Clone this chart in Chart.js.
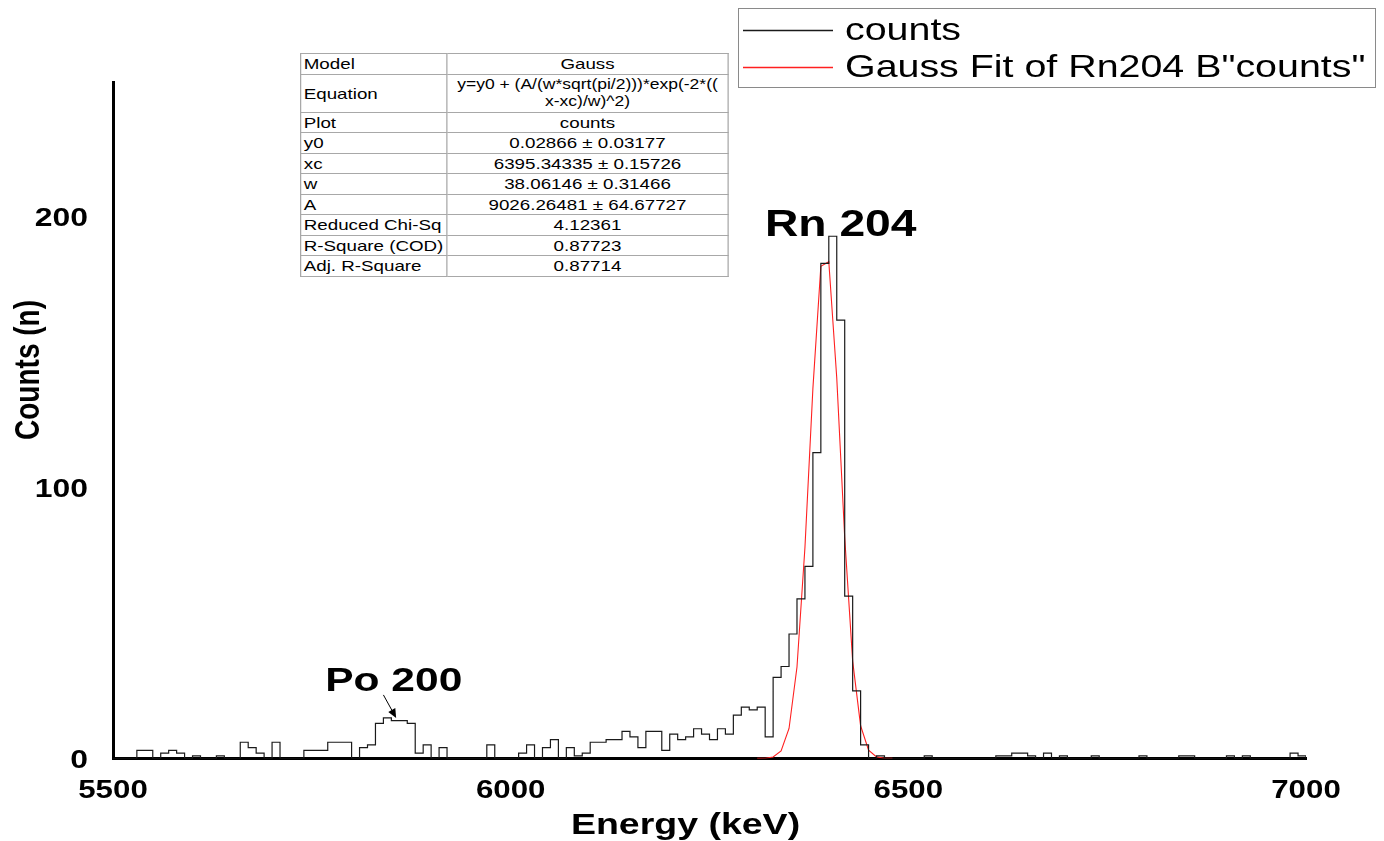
<!DOCTYPE html>
<html>
<head>
<meta charset="utf-8">
<script src="https://cdn.jsdelivr.net/npm/chart.js@4.4.0/dist/chart.umd.min.js"></script>
<style>
  body { margin: 0; background: #fff; }
  #wrap { position: relative; width: 1384px; height: 841px; }
  #fitTable {
    position: absolute; left: 300px; top: 53px;
    width: 342px; border-collapse: collapse; table-layout: fixed;
    transform: scaleX(1.25); transform-origin: 0 0;
    font-family: "Liberation Sans", Arial, sans-serif; font-size: 15px; color: #000;
    background: #fff;
  }
  #fitTable td { border: 1px solid #a8a8a8; padding: 0 2px; height: 19.5px; line-height: 17px; white-space: nowrap; overflow: hidden; }
  #fitTable td:last-child { text-align: center; }
  #fitTable td.eq { font-size: 14px; line-height: 17px; height: 37px; }
</style>
</head>
<body>
<div id="wrap">
  <canvas id="spectrum"></canvas>
  <table id="fitTable"><colgroup><col style="width:117px"><col style="width:225px"></colgroup></table>
</div>
<script>
// histogram: 10 keV bins starting at 5500 keV
const binStart = 5500;
const binWidth = 10;
const counts = [
  0, 0, 0, 3, 3, 0, 2, 3, 2, 0,         // 5500
  1, 0, 0, 1, 0, 0, 6, 4, 2, 0,         // 5600
  6, 0, 0, 0, 3, 3, 3, 6, 6, 6,         // 5700
  0, 4, 5, 13, 15, 14, 14, 13, 2, 5,    // 5800
  0, 4, 0, 0, 0, 0, 0, 5, 0, 0,         // 5900
  0, 2, 5, 0, 4, 7, 0, 4, 1, 2,         // 6000
  6, 6, 7, 7, 10, 8, 4, 10, 10, 3,      // 6100
  9, 7, 8, 11, 9, 7, 11, 9, 16, 19,     // 6200
  18, 19, 8, 30, 34, 46, 59, 71, 113, 183, // 6300
  193, 162, 60, 25, 5, 0, 1, 0, 0, 0,   // 6400
  0, 0, 1, 0, 0, 0, 0, 0, 0, 0,         // 6500
  0, 1, 1, 2, 2, 1, 0, 2, 0, 1,         // 6600
  0, 0, 0, 1, 0, 0, 0, 0, 0, 1,         // 6700
  0, 0, 0, 0, 1, 1, 0, 0, 0, 0,         // 6800
  1, 0, 1, 0, 0, 0, 0, 0, 2, 1          // 6900
];

// Gauss fit curve as plotted
const fitEnergy = [6310, 6320, 6330, 6340, 6350, 6360, 6370, 6380, 6390, 6400, 6410, 6420, 6430, 6440, 6450, 6460, 6470, 6480];
const fitCounts = [0.04, 0.1, 0.55, 2.8, 11.1, 33.8, 78.0, 136.7, 181.9, 183.6, 140.6, 81.7, 36.0, 12.1, 3.1, 0.6, 0.1, 0.04];

const xTicks = [5500, 6000, 6500, 7000];
const yTicks = [0, 100, 200];

const fitRows = [
  ['Model', 'Gauss'],
  ['Equation', 'y=y0 + (A/(w*sqrt(pi/2)))*exp(-2*((<br>x-xc)/w)^2)'],
  ['Plot', 'counts'],
  ['y0', '0.02866 \u00b1 0.03177'],
  ['xc', '6395.34335 \u00b1 0.15726'],
  ['w', '38.06146 \u00b1 0.31466'],
  ['A', '9026.26481 \u00b1 64.67727'],
  ['Reduced Chi-Sq', '4.12361'],
  ['R-Square (COD)', '0.87723'],
  ['Adj. R-Square', '0.87714']
];

const FONT = '"Liberation Sans", Arial, sans-serif';
const SX = 1.25; // text is drawn horizontally widened

// fill in the fit parameter table
const table = document.getElementById('fitTable');
fitRows.forEach(row => {
  const tr = document.createElement('tr');
  tr.innerHTML = `<td>${row[0]}</td><td${row[0] === 'Equation' ? ' class="eq"' : ''}>${row[1]}</td>`;
  table.appendChild(tr);
});

function drawText(ctx, text, x, y, font, align) {
  ctx.save();
  ctx.translate(x, y);
  ctx.scale(SX, 1);
  ctx.font = font;
  ctx.textAlign = align;
  ctx.textBaseline = 'alphabetic';
  ctx.fillStyle = '#000';
  ctx.fillText(text, 0, 0);
  ctx.restore();
}

// tick labels, axis titles, peak labels and legend
const decorations = {
  id: 'decorations',
  afterDraw(chart) {
    const ctx = chart.ctx;
    const xs = chart.scales.x;
    const ys = chart.scales.y;

    xs.ticks.forEach(t => {
      drawText(ctx, String(t.value), xs.getPixelForValue(t.value), 798, 'bold 25px ' + FONT, 'center');
    });
    ys.ticks.forEach(t => {
      drawText(ctx, String(t.value), 88, ys.getPixelForValue(t.value) + 9, 'bold 25.5px ' + FONT, 'right');
    });

    drawText(ctx, 'Energy (keV)', (xs.left + xs.right) / 2 - 24, 834, 'bold 30px ' + FONT, 'center');

    // rotated y title, widened across the text direction
    ctx.save();
    ctx.translate(39, 370);
    ctx.scale(SX, 1);
    ctx.rotate(-Math.PI / 2);
    ctx.font = 'bold 28px ' + FONT;
    ctx.textAlign = 'center';
    ctx.textBaseline = 'alphabetic';
    ctx.fillStyle = '#000';
    ctx.fillText('Counts (n)', 0, 0);
    ctx.restore();

    // peak labels
    drawText(ctx, 'Rn 204', xs.getPixelForValue(6415), ys.getPixelForValue(193), 'bold 37px ' + FONT, 'center');
    drawText(ctx, 'Po 200', xs.getPixelForValue(5853), ys.getPixelForValue(25), 'bold 34px ' + FONT, 'center');

    // arrow down to the Po 200 bump
    const ax0 = xs.getPixelForValue(5840), ay0 = ys.getPixelForValue(23.5);
    const ax1 = xs.getPixelForValue(5856), ay1 = ys.getPixelForValue(15);
    const ang = Math.atan2(ay1 - ay0, ax1 - ax0);
    ctx.save();
    ctx.strokeStyle = '#000';
    ctx.fillStyle = '#000';
    ctx.lineWidth = 1;
    ctx.beginPath();
    ctx.moveTo(ax0, ay0);
    ctx.lineTo(ax1 - 6 * Math.cos(ang), ay1 - 6 * Math.sin(ang));
    ctx.stroke();
    ctx.beginPath();
    ctx.moveTo(ax1, ay1);
    ctx.lineTo(ax1 - 9 * Math.cos(ang) + 4 * Math.sin(ang), ay1 - 9 * Math.sin(ang) - 4 * Math.cos(ang));
    ctx.lineTo(ax1 - 9 * Math.cos(ang) - 4 * Math.sin(ang), ay1 - 9 * Math.sin(ang) + 4 * Math.cos(ang));
    ctx.closePath();
    ctx.fill();
    ctx.restore();

    // legend box
    ctx.save();
    ctx.fillStyle = '#fff';
    ctx.fillRect(738, 8, 638, 80);
    ctx.strokeStyle = '#8a8a8a';
    ctx.lineWidth = 1;
    ctx.strokeRect(738.5, 8.5, 637, 79);
    chart.data.datasets.forEach((ds, i) => {
      const ly = 30 + i * 37;
      ctx.strokeStyle = ds.borderColor;
      ctx.lineWidth = 1.5;
      ctx.beginPath();
      ctx.moveTo(743, ly + 0.5);
      ctx.lineTo(833, ly + 0.5);
      ctx.stroke();
      drawText(ctx, ds.label, 845, ly + 10, '31.5px ' + FONT, 'left');
    });
    ctx.restore();
  }
};

const histPoints = counts.map((c, i) => ({ x: binStart + i * binWidth, y: c }));
histPoints.push({ x: binStart + counts.length * binWidth, y: 0 });
const fitPoints = fitEnergy.map((e, i) => ({ x: e, y: fitCounts[i] }));

new Chart(document.getElementById('spectrum'), {
  type: 'line',
  data: {
    datasets: [
      {
        label: 'counts',
        data: histPoints,
        stepped: 'before',
        borderColor: '#1a1a1a',
        borderWidth: 1.2,
        pointRadius: 0,
        fill: false
      },
      {
        label: 'Gauss Fit of Rn204 B"counts"',
        data: fitPoints,
        borderColor: '#ff2020',
        borderWidth: 1.1,
        pointRadius: 0,
        tension: 0,
        fill: false
      }
    ]
  },
  options: {
    responsive: true,
    maintainAspectRatio: false,
    animation: false,
    layout: { padding: { left: 0, right: 78, top: 82, bottom: 0 } },
    plugins: {
      legend: { display: false },
      tooltip: { enabled: false }
    },
    scales: {
      x: {
        type: 'linear',
        min: 5500,
        max: 7000,
        grid: { display: false },
        border: { display: true, color: '#000', width: 3 },
        ticks: { display: false },
        afterBuildTicks: scale => { scale.ticks = xTicks.map(v => ({ value: v })); },
        afterFit: scale => { scale.height = 82.5; }
      },
      y: {
        min: 0,
        max: 250,
        grid: { display: false },
        border: { display: true, color: '#000', width: 3 },
        ticks: { display: false },
        afterBuildTicks: scale => { scale.ticks = yTicks.map(v => ({ value: v })); },
        afterFit: scale => { scale.width = 113; }
      }
    }
  },
  plugins: [decorations]
});
</script>
</body>
</html>
